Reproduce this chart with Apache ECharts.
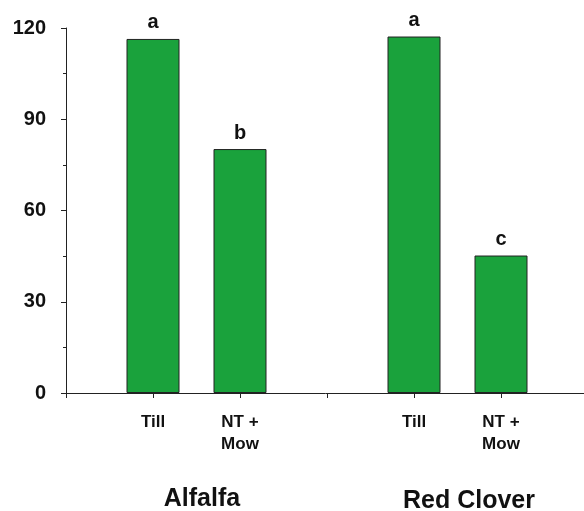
<!DOCTYPE html>
<html>
<head>
<meta charset="utf-8">
<script src="https://cdn.jsdelivr.net/npm/echarts@6/dist/echarts.min.js"></script>
<style>
  html, body { margin: 0; padding: 0; background: #fff; }
  #main { width: 584px; height: 511px; }
</style>
</head>
<body>
<div id="main"></div>
<script>
// x positions: empty slots keep the gaps between the two crops
const categories = ['', 'Till', 'NT +\nMow', '', 'Till', 'NT +\nMow', ''];
const values = ['-', 116.4, 80.2, '-', 117.2, 45.2, '-'];
const letters = ['', 'a', 'b', '', 'a', 'c', ''];
const groups = ['Alfalfa', 'Red Clover'];
const yTicks = [0, 30, 60, 90, 120];

const chart = echarts.init(document.getElementById('main'));

const font = 'Liberation Sans, Arial, sans-serif';

chart.setOption({
  animation: false,
  textStyle: { fontFamily: font, color: '#111' },
  grid: { left: 66, width: 522, top: 28, bottom: 118, containLabel: false, outerBoundsMode: 'none' },
  xAxis: {
    type: 'category',
    data: categories,
    boundaryGap: false,
    axisLine: { lineStyle: { color: '#222', width: 1 } },
    axisTick: { show: true, length: 5, inside: false, lineStyle: { color: '#222' },
      interval: (i) => i < categories.length - 1 },
    axisLabel: {
      interval: 0,
      margin: 18,
      fontSize: 17,
      fontWeight: 'bold',
      lineHeight: 22,
      color: '#111',
      fontFamily: font
    },
    splitLine: { show: false }
  },
  yAxis: {
    type: 'value',
    min: yTicks[0],
    max: yTicks[yTicks.length - 1],
    interval: 30,
    axisLine: { show: true, lineStyle: { color: '#222', width: 1 } },
    axisTick: { show: true, length: 5, lineStyle: { color: '#222' } },
    minorTick: { show: true, splitNumber: 2, length: 3, lineStyle: { color: '#222' } },
    axisLabel: { margin: 20, fontSize: 20, fontWeight: 'bold', color: '#111', fontFamily: font },
    splitLine: { show: false }
  },
  series: [{
    type: 'bar',
    data: values,
    barWidth: 53,
    itemStyle: { color: '#1aa23c', borderColor: '#222', borderWidth: 1 },
    label: {
      show: true,
      position: 'top',
      distance: 6,
      fontSize: 20,
      fontWeight: 'bold',
      color: '#111',
      fontFamily: font,
      formatter: (p) => letters[p.dataIndex]
    }
  }],
  graphic: [
    { type: 'text', x: 202, y: 499,
      style: { text: groups[0], font: 'bold 25px ' + font, fill: '#111', align: 'center', verticalAlign: 'middle' } },
    { type: 'text', x: 469, y: 501,
      style: { text: groups[1], font: 'bold 25px ' + font, fill: '#111', align: 'center', verticalAlign: 'middle' } }
  ]
});
</script>
</body>
</html>
